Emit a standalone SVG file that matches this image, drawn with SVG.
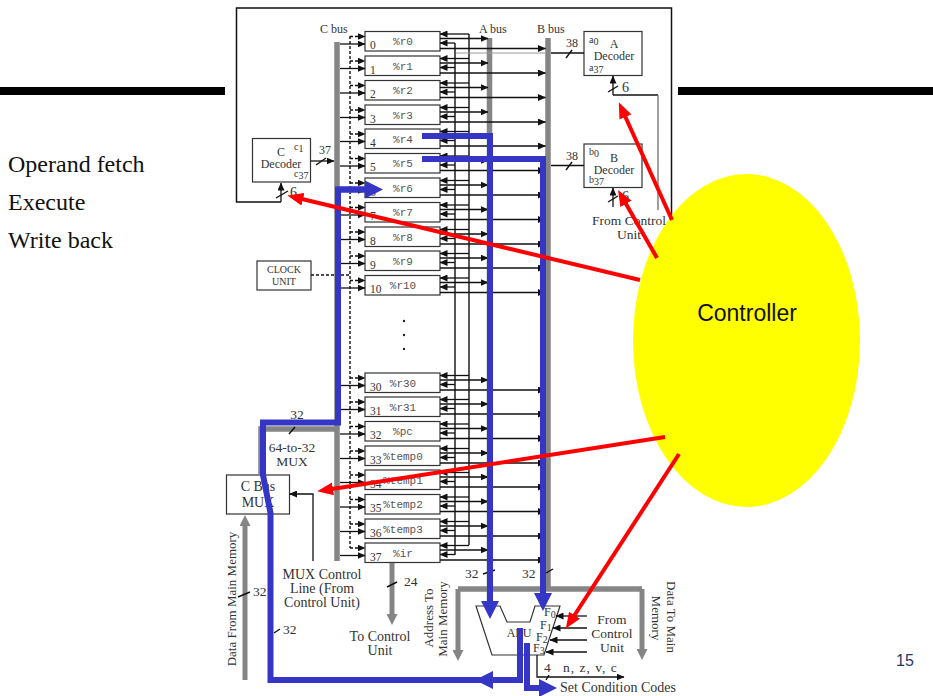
<svg xmlns="http://www.w3.org/2000/svg" width="933" height="696" viewBox="0 0 933 696">
<style>
text{font-family:"Liberation Serif","Times New Roman",serif;fill:#333}
.c{text-anchor:middle}
.t{font-size:12px}
.s{font-size:14px}
.v{font-size:13px}
.f{font-size:13.5px}
.m{font-size:10px}
.l{font-size:24px;fill:#111}
.reg rect,.box{fill:#fff;stroke:#333;stroke-width:1.2}
.reg .n{font-family:"Liberation Mono","Courier New",monospace;font-size:11px;text-anchor:middle;fill:#555}
.reg .i{font-size:11.5px}
.w{fill:none;stroke:#111;stroke-width:1.4}
.wa{fill:none;stroke:#111;stroke-width:1.3;marker-end:url(#a)}
.d{fill:none;stroke:#111;stroke-width:1.4;stroke-dasharray:3 2}
.da{fill:none;stroke:#111;stroke-width:1.3;stroke-dasharray:3 2;marker-end:url(#a)}
.g{fill:none;stroke:#858585;stroke-width:5.5}
.ga{fill:none;stroke:#858585;stroke-width:5;marker-end:url(#ag)}
.b{fill:none;stroke:#3535c6;stroke-width:6}
.ba{fill:none;stroke:#3535c6;stroke-width:6;marker-end:url(#ab)}
.r{fill:none;stroke:#f00;stroke-width:4;marker-end:url(#ar)}
.sl{stroke:#111;stroke-width:1.4}
</style>
<defs>
<marker id="a" markerUnits="userSpaceOnUse" markerWidth="8" markerHeight="7" refX="7.5" refY="3.5" orient="auto"><path d="M0,0L8,3.5L0,7Z" fill="#111"/></marker>
<marker id="ag" markerUnits="userSpaceOnUse" markerWidth="11" markerHeight="11" refX="1" refY="5.5" orient="auto"><path d="M0,0L11,5.5L0,11Z" fill="#858585"/></marker>
<marker id="ab" markerUnits="userSpaceOnUse" markerWidth="18" markerHeight="18" refX="1" refY="9" orient="auto"><path d="M0,0L18,9L0,18Z" fill="#3535c6"/></marker>
<marker id="ar" markerUnits="userSpaceOnUse" markerWidth="16" markerHeight="13" refX="1" refY="6.5" orient="auto"><path d="M0,0L16,6.5L0,13Z" fill="#f00"/></marker>
<g id="row">
<path class="wa" d="M340,12.5H365"/>
<path class="da" d="M350,5H365"/>
<path class="wa" d="M469,2.5H440"/>
<path class="wa" d="M455,11.5H440"/>
<path class="wa" d="M440,7H488"/>
<path class="wa" d="M440,17H545.5"/>
</g>
</defs>
<rect width="933" height="696" fill="#fff"/>
<rect x="0" y="87" width="225" height="8" fill="#000"/>
<rect x="678" y="87" width="255" height="8" fill="#000"/>
<path d="M281,202H236.5V8H671.5V218" fill="none" stroke="#111" stroke-width="1.5"/>
<g id="left-text">
<text class="l" x="8" y="172">Operand fetch</text>
<text class="l" x="8" y="210">Execute</text>
<text class="l" x="8" y="248">Write back</text>
</g>
<text id="page-number" x="896" y="666" style="font-family:'Liberation Sans',Arial,sans-serif;font-size:16px;fill:#1f3864">15</text>
<g id="bus-labels">
<text x="320" y="33" class="t">C bus</text>
<text x="479" y="33" class="t">A bus</text>
<text x="537" y="33" class="t">B bus</text>
</g>

<g id="r0" class="reg"><rect x="365" y="31.5" width="75" height="19.5"/><text class="n" x="403" y="45">%r0</text><text class="i" x="370" y="49">0</text></g>
<g id="r1" class="reg"><rect x="365" y="56" width="75" height="19.5"/><text class="n" x="403" y="69.5">%r1</text><text class="i" x="370" y="73.5">1</text></g>
<g id="r2" class="reg"><rect x="365" y="80.5" width="75" height="19.5"/><text class="n" x="403" y="94">%r2</text><text class="i" x="370" y="98">2</text></g>
<g id="r3" class="reg"><rect x="365" y="105" width="75" height="19.5"/><text class="n" x="403" y="118.5">%r3</text><text class="i" x="370" y="122.5">3</text></g>
<g id="r4" class="reg"><rect x="365" y="129" width="75" height="19.5"/><text class="n" x="403" y="142.5">%r4</text><text class="i" x="370" y="146.5">4</text></g>
<g id="r5" class="reg"><rect x="365" y="153.5" width="75" height="19.5"/><text class="n" x="403" y="167">%r5</text><text class="i" x="370" y="171">5</text></g>
<g id="r6" class="reg"><rect x="365" y="178" width="75" height="19.5"/><text class="n" x="403" y="191.5">%r6</text><text class="i" x="370" y="195.5">6</text></g>
<g id="r7" class="reg"><rect x="365" y="202.5" width="75" height="19.5"/><text class="n" x="403" y="216">%r7</text><text class="i" x="370" y="220">7</text></g>
<g id="r8" class="reg"><rect x="365" y="227" width="75" height="19.5"/><text class="n" x="403" y="240.5">%r8</text><text class="i" x="370" y="244.5">8</text></g>
<g id="r9" class="reg"><rect x="365" y="251" width="75" height="19.5"/><text class="n" x="403" y="264.5">%r9</text><text class="i" x="370" y="268.5">9</text></g>
<g id="r10" class="reg"><rect x="365" y="275.5" width="75" height="19.5"/><text class="n" x="403" y="289">%r10</text><text class="i" x="370" y="293">10</text></g>
<g id="r30" class="reg"><rect x="365" y="373" width="75" height="19.5"/><text class="n" x="403" y="386.5">%r30</text><text class="i" x="370" y="390.5">30</text></g>
<g id="r31" class="reg"><rect x="365" y="397" width="75" height="19.5"/><text class="n" x="403" y="410.5">%r31</text><text class="i" x="370" y="414.5">31</text></g>
<g id="pc" class="reg"><rect x="365" y="421.5" width="75" height="19.5"/><text class="n" x="403" y="435">%pc</text><text class="i" x="370" y="439">32</text></g>
<g id="temp0" class="reg"><rect x="365" y="446" width="75" height="19.5"/><text class="n" x="403" y="459.5">%temp0</text><text class="i" x="370" y="463.5">33</text></g>
<g id="temp1" class="reg"><rect x="365" y="470" width="75" height="19.5"/><text class="n" x="403" y="483.5">%temp1</text><text class="i" x="370" y="487.5">34</text></g>
<g id="temp2" class="reg"><rect x="365" y="494.5" width="75" height="19.5"/><text class="n" x="403" y="508">%temp2</text><text class="i" x="370" y="512">35</text></g>
<g id="temp3" class="reg"><rect x="365" y="519" width="75" height="19.5"/><text class="n" x="403" y="532.5">%temp3</text><text class="i" x="370" y="536.5">36</text></g>
<g id="ir" class="reg"><rect x="365" y="543" width="75" height="19.5"/><text class="n" x="403" y="556.5">%ir</text><text class="i" x="370" y="560.5">37</text></g>
<g id="ellipsis" fill="#222"><circle cx="404" cy="321" r="1.2"/><circle cx="404" cy="335" r="1.2"/><circle cx="404" cy="349" r="1.2"/></g>

<g id="c-decoder"><rect class="box" x="252.5" y="138.5" width="58" height="43.5"/>
<text class="c t" x="281" y="156">C</text><text class="m" x="294" y="150">c<tspan dy="2">1</tspan></text><text class="c t" x="281" y="168">Decoder</text><text class="m" x="294" y="177">c<tspan dy="2">37</tspan></text></g>
<g id="a-decoder"><rect class="box" x="584" y="31.5" width="58" height="44"/>
<text class="m" x="589" y="43">a<tspan dy="2">0</tspan></text><text class="c t" x="614" y="48">A</text><text class="c t" x="614" y="60">Decoder</text><text class="m" x="589" y="71">a<tspan dy="2">37</tspan></text></g>
<g id="b-decoder"><rect class="box" x="584" y="144" width="58" height="43.5"/>
<text class="m" x="589" y="155">b<tspan dy="2">0</tspan></text><text class="c t" x="614" y="162">B</text><text class="c t" x="614" y="174">Decoder</text><text class="m" x="589" y="183">b<tspan dy="2">37</tspan></text></g>
<g id="clock-unit"><rect class="box" x="257" y="261" width="54" height="29"/>
<text class="c" x="284" y="273" style="font-size:10px">CLOCK</text><text class="c" x="284" y="285" style="font-size:10px">UNIT</text></g>
<g id="c-bus-mux"><rect class="box" x="226.5" y="475" width="63" height="39"/>
<text class="c s" x="258" y="491">C Bus</text><text class="c s" x="258" y="507">MUX</text></g>
<g id="alu"><path d="M476,606H500L507,622H530L535,606H560L544,655H492Z" fill="#fff" stroke="#333" stroke-width="1.2"/>
<text class="c t" x="519" y="637">ALU</text>
<text class="t" x="544" y="616">F<tspan class="m" dy="2">0</tspan></text><text class="t" x="540" y="629">F<tspan class="m" dy="2">1</tspan></text><text class="t" x="536" y="641">F<tspan class="m" dy="2">2</tspan></text><text class="t" x="533" y="652">F<tspan class="m" dy="2">3</tspan></text></g>

<g id="controller">
<ellipse cx="746.5" cy="340.5" rx="113.5" ry="166.5" fill="#ff0"/>
<text x="747" y="321" class="c" style="font-family:'Liberation Sans',Arial,sans-serif;font-size:23px;fill:#111">Controller</text>
</g>

<g id="labels">
<text class="c t" x="325" y="154">37</text>
<text class="c t" x="572" y="47">38</text>
<text class="c t" x="572" y="160">38</text>
<text class="s" x="290" y="197">6</text>
<text class="s" x="622" y="92">6</text>
<text class="s" x="622" y="201">6</text>
<text class="c f" x="629" y="225">From Control</text>
<text class="c f" x="629" y="239">Unit</text>
<text class="c f" x="297" y="419">32</text>
<text class="c f" x="292" y="452">64-to-32</text>
<text class="c f" x="292" y="466">MUX</text>
<text class="c s" x="322" y="579">MUX Control</text>
<text class="c s" x="322" y="593">Line (From</text>
<text class="c s" x="322" y="607">Control Unit)</text>
<text class="f" x="253" y="596">32</text>
<text class="f" x="283" y="634">32</text>
<text class="f" x="404" y="586">24</text>
<text class="c s" x="380" y="641">To Control</text>
<text class="c s" x="380" y="655">Unit</text>
<text class="f" x="465" y="578">32</text>
<text class="f" x="522" y="578">32</text>
<text class="c v" transform="translate(236,599) rotate(-90)">Data From Main Memory</text>
<text class="c v" transform="translate(433,618) rotate(-90)">Address To</text>
<text class="c v" transform="translate(447,619) rotate(-90)">Main Memory</text>
<text class="c v" transform="translate(667,617) rotate(90)">Data To Main</text>
<text class="c v" transform="translate(652,618) rotate(90)">Memory</text>
<text class="c f" x="612" y="624">From</text>
<text class="c f" x="612" y="638">Control</text>
<text class="c f" x="612" y="652">Unit</text>
<text class="f" x="544" y="672">4</text>
<text class="f" x="563" y="672" style="letter-spacing:1px">n, z, v, c</text>
<text class="s" x="560" y="692">Set Condition Codes</text>
</g>

<g id="connectors">
<path class="g" d="M337,42V561"/>
<path class="g" d="M337,429H261V475"/>
<path class="g" d="M489.5,38V602"/>
<path class="g" d="M548,38V589"/>
<path class="g" d="M458,589H642"/>
<path class="ga" d="M642,589V650"/>
<path class="ga" d="M458,589V651"/>
<path class="ga" d="M392,563V615"/>
<path class="ga" d="M245,680V525"/>
<path class="d" d="M350,36V548"/>
<path class="w" d="M455,43V555M469,34V545"/>
<path d="M456,53H545" stroke="#999" stroke-width="1" fill="none"/>
<use href="#row" y="31.5"/><use href="#row" y="56"/><use href="#row" y="80.5"/><use href="#row" y="105"/><use href="#row" y="129"/><use href="#row" y="153.5"/><use href="#row" y="178"/><use href="#row" y="202.5"/><use href="#row" y="227"/><use href="#row" y="251"/><use href="#row" y="275.5"/><use href="#row" y="373"/><use href="#row" y="397"/><use href="#row" y="421.5"/><use href="#row" y="446"/><use href="#row" y="470"/><use href="#row" y="494.5"/><use href="#row" y="519"/><use href="#row" y="543"/>
<path class="wa" d="M310.5,161H334"/>
<line class="sl" x1="316" y1="165" x2="326" y2="158"/>
<path class="wa" d="M281,202V183"/>
<line class="sl" x1="276" y1="198" x2="288" y2="191"/>
<path class="w" d="M551,53H584"/><line class="sl" x1="566" y1="58" x2="572" y2="50"/>
<path class="w" d="M551,165.5H584"/><line class="sl" x1="566" y1="170" x2="572" y2="162"/>
<path class="wa" d="M613,95V76"/><line class="sl" x1="608" y1="92" x2="618" y2="86"/>
<path d="M613,95H658" stroke="#111" stroke-width="1.4" fill="none"/><path d="M658,95V210" stroke="#777" stroke-width="1.4" fill="none"/>
<path class="wa" d="M613,207V188"/><line class="sl" x1="608" y1="202" x2="618" y2="196"/>
<path class="d" d="M311,275H350"/>
<path class="wa" d="M313,561V494H289.5"/>
<line class="sl" x1="289" y1="434" x2="295" y2="427"/>
<line class="sl" x1="238" y1="597" x2="250" y2="592"/>
<line class="sl" x1="274" y1="633" x2="280" y2="629"/>
<line class="sl" x1="387" y1="587" x2="397" y2="582"/>
<line class="sl" x1="483" y1="574" x2="495" y2="570"/>
<line class="sl" x1="546" y1="573" x2="553" y2="569"/>
<path class="wa" d="M587,616H556"/><path class="wa" d="M587,628H553"/><path class="wa" d="M587,640H550"/><path class="wa" d="M587,652H546"/>
<path class="wa" d="M537,655V677H624"/>
<line class="sl" x1="546" y1="680" x2="549" y2="675"/>
<path class="b" d="M520,628V680H270.5V513L263,475V422.5H338V189.5H366"/>
<path class="ba" d="M338,189.5H366"/>
<path class="ba" d="M510,680H492"/>
<path class="ba" d="M527,643V688H540"/>
<path class="ba" d="M422,136H490V602"/>
<path class="ba" d="M422,159H543V594"/>
<path class="r" d="M672,220L625,116"/>
<path class="r" d="M657,258L625.5,203"/>
<path class="r" d="M640,280L302,199"/>
<path class="r" d="M665,437L332,489"/>
<path class="r" d="M679,454L574,616"/>
</g>
</svg>
